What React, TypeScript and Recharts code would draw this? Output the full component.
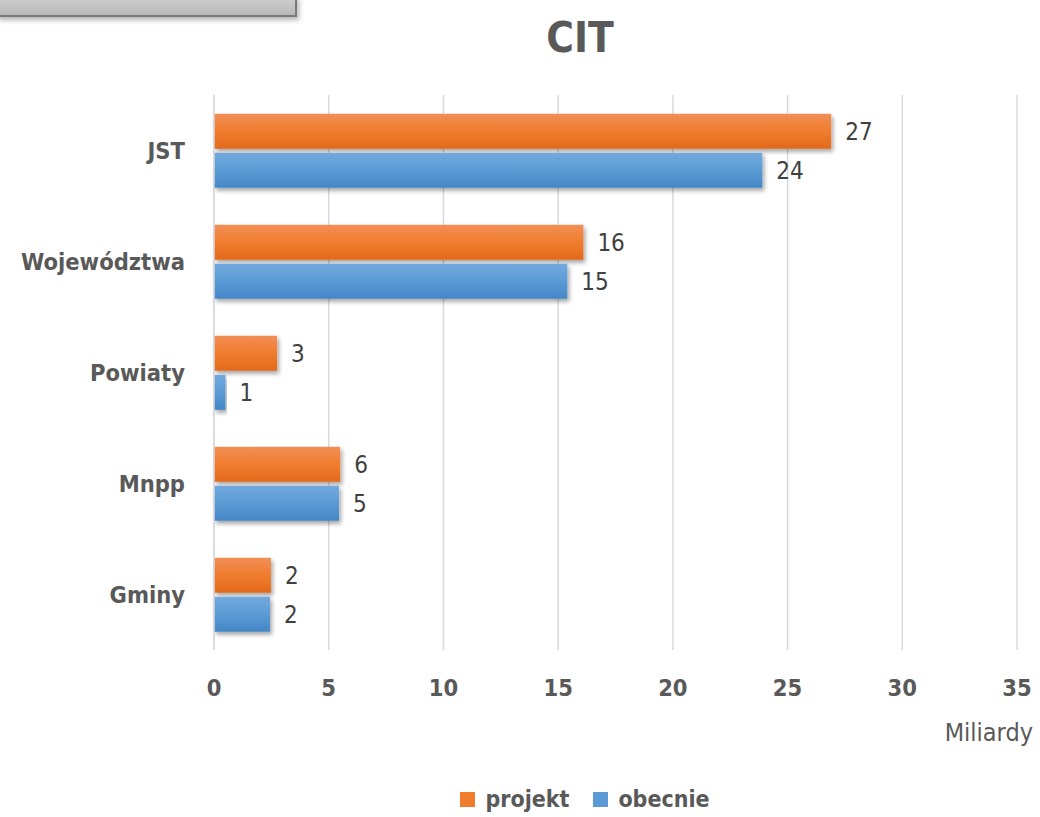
import React from "react";
import {
	BarChart,
	Bar,
	XAxis,
	YAxis,
	CartesianGrid,
	Legend,
	LabelList,
	Label,
} from "recharts";

const categories = ["JST", "Województwa", "Powiaty", "Mnpp", "Gminy"];
const projekt = [26.9, 16.1, 2.75, 5.5, 2.48];
const obecnie = [23.9, 15.4, 0.5, 5.45, 2.44];
const xTicks = [0, 5, 10, 15, 20, 25, 30, 35];
const seriesNames = ["projekt", "obecnie"];
const seriesColors = ["#F07D2E", "#5B9BD5"];

const data = categories.map((name, i) => ({
	name,
	projekt: projekt[i],
	obecnie: obecnie[i],
}));

const FONT = '"DejaVu Sans Condensed", "DejaVu Sans", sans-serif';
const GREY = "#595959";

function LegendBox() {
	return (
		<div
			style={{
				display: "flex",
				justifyContent: "center",
				alignItems: "center",
				gap: 24,
				fontFamily: FONT,
				fontSize: 23,
				fontWeight: "bold",
				color: GREY,
			}}
		>
			{seriesNames.map((n, i) => (
				<span key={n} style={{ display: "flex", alignItems: "center" }}>
					<span
						style={{
							display: "inline-block",
							width: 15,
							height: 15,
							marginRight: 10,
							background: seriesColors[i],
						}}
					/>
					{n}
				</span>
			))}
		</div>
	);
}

export default function App() {
	return (
		<div
			style={{
				position: "absolute",
				left: 0,
				top: 0,
				width: 1040,
				height: 817,
				background: "#fff",
				fontFamily: FONT,
				overflow: "hidden",
			}}
		>
			{/* leftover grey box at the top edge */}
			<div
				style={{
					position: "absolute",
					left: -4,
					top: -4,
					width: 299,
					height: 19,
					background: "linear-gradient(#d0d0d0, #b8b8b8)",
					borderRight: "2px solid #7a7a7a",
					borderBottom: "2px solid #7a7a7a",
					boxShadow: "2px 3px 5px rgba(0,0,0,0.3)",
				}}
			/>
			<div
				style={{
					position: "absolute",
					left: 0,
					width: 1160,
					top: 13,
					textAlign: "center",
					fontSize: 42,
					fontWeight: "bold",
					color: GREY,
				}}
			>
				CIT
			</div>
			<BarChart
				width={1040}
				height={817}
				data={data}
				layout="vertical"
				margin={{ top: 95, right: 23, bottom: 42, left: 0 }}
				barCategoryGap="17%"
				barGap={4}
			>
				<defs>
					<linearGradient id="gOrange" x1="0" y1="0" x2="0" y2="1">
						<stop offset="0%" stopColor="#F28E55" />
						<stop offset="50%" stopColor="#F07D2E" />
						<stop offset="100%" stopColor="#E2691A" />
					</linearGradient>
					<linearGradient id="gBlue" x1="0" y1="0" x2="0" y2="1">
						<stop offset="0%" stopColor="#72A9DE" />
						<stop offset="50%" stopColor="#5B9BD5" />
						<stop offset="100%" stopColor="#4486C6" />
					</linearGradient>
					<filter id="shadow" x="-5%" y="-20%" width="115%" height="160%">
						<feDropShadow dx="2" dy="3" stdDeviation="2" floodColor="#000" floodOpacity="0.35" />
					</filter>
				</defs>
				<CartesianGrid horizontal={false} stroke="#D9D9D9" strokeWidth={1.5} />
				<XAxis
					type="number"
					domain={[0, 35]}
					ticks={xTicks}
					axisLine={false}
					tickLine={false}
					tickSize={0}
					tickMargin={29}
					height={95}
					tick={{ fill: GREY, fontSize: 23.5, fontWeight: "bold", fontFamily: FONT }}
				>
					<Label
						value="Miliardy"
						position="insideBottomRight"
						offset={4}
						dx={20}
						style={{ fill: GREY, fontSize: 25, fontFamily: FONT }}
					/>
				</XAxis>
				<YAxis
					type="category"
					dataKey="name"
					width={214}
					axisLine={{ stroke: "#D9D9D9", strokeWidth: 1.5 }}
					tickLine={false}
					tickSize={0}
					tickMargin={29}
					tick={{ fill: GREY, fontSize: 23.5, fontWeight: "bold", fontFamily: FONT }}
				/>
				<Legend
					content={() => <LegendBox />}
					wrapperStyle={{ left: 0, width: 1170, top: 786, height: 30 }}
				/>
				<Bar
					dataKey="projekt"
					name="projekt"
					fill="url(#gOrange)"
					filter="url(#shadow)"
					isAnimationActive={false}
				>
					<LabelList
						dataKey="projekt"
						position="right"
						offset={14}
						formatter={(v: number) => Math.round(v)}
						style={{ fill: "#404040", fontSize: 24, fontFamily: FONT }}
					/>
				</Bar>
				<Bar
					dataKey="obecnie"
					name="obecnie"
					fill="url(#gBlue)"
					filter="url(#shadow)"
					isAnimationActive={false}
				>
					<LabelList
						dataKey="obecnie"
						position="right"
						offset={14}
						formatter={(v: number) => Math.round(v)}
						style={{ fill: "#404040", fontSize: 24, fontFamily: FONT }}
					/>
				</Bar>
			</BarChart>
		</div>
	);
}
